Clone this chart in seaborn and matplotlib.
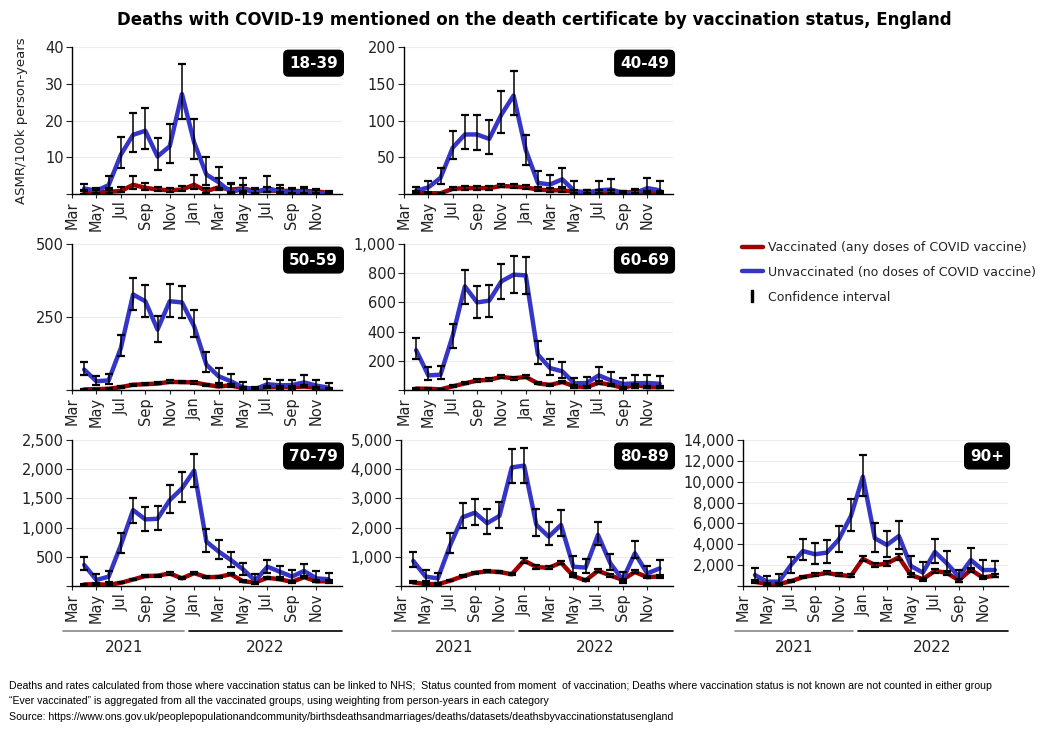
import pandas as pd
import matplotlib
matplotlib.use('Agg')
import matplotlib.pyplot as plt
import matplotlib.transforms as mtransforms
from matplotlib.lines import Line2D
from matplotlib.ticker import FuncFormatter, MultipleLocator
import seaborn as sns

# months counted from Mar 2021 = 0; data runs Apr 2021 .. Dec 2022
months = list(range(1, 22))
tick_pos = list(range(0, 21, 2))
tick_labels = ['Mar', 'May', 'Jul', 'Sep', 'Nov', 'Jan', 'Mar', 'May', 'Jul', 'Sep', 'Nov']
age_groups = ['18-39', '40-49', '50-59', '60-69', '70-79', '80-89', '90+']

# --- 18-39 ---
unvax_18_39 = [1.5, 0.9, 2.4, 10.7, 16.1, 17.2, 10.2, 13.0, 27.2, 14.0, 5.3, 3.2, 0.5, 1.4, 0.3, 1.6, 0.7, 0.5, 0.5, 0.3, 0.1]
unvax_18_39_lo = [1.0, 0.4, 1.5, 7.0, 11.5, 12.3, 6.5, 8.5, 20.5, 9.5, 2.5, 1.5, 0.0, 0.3, 0.0, 0.5, 0.0, 0.0, 0.0, 0.0, 0.0]
unvax_18_39_hi = [2.7, 1.5, 5.0, 15.5, 22.0, 23.5, 15.2, 19.0, 35.5, 20.3, 10.0, 7.3, 3.0, 4.3, 1.3, 4.8, 2.5, 1.3, 1.8, 1.0, 0.5]
vax_18_39 = [0.2, 0.4, 0.6, 0.8, 2.5, 1.7, 1.2, 1.0, 1.2, 2.5, 0.8, 1.8, 1.2, 1.5, 0.8, 0.9, 0.9, 0.8, 0.8, 0.7, 0.3]
vax_18_39_lo = [0.0, 0.1, 0.3, 0.5, 1.3, 1.0, 0.8, 0.6, 0.8, 1.3, 0.4, 1.0, 0.6, 0.8, 0.4, 0.5, 0.5, 0.4, 0.4, 0.3, 0.1]
vax_18_39_hi = [0.8, 1.0, 1.2, 1.8, 4.8, 3.0, 2.0, 1.7, 2.2, 5.3, 1.6, 4.3, 2.8, 2.5, 1.5, 1.8, 1.7, 1.5, 1.7, 1.3, 0.7]

# --- 40-49 ---
unvax_40_49 = [4.5, 9, 22, 63, 81, 81, 75, 108, 134, 60, 15, 13, 20, 4, 1.5, 5, 6, 1.5, 1.5, 8, 5]
unvax_40_49_lo = [2, 3, 13, 47, 61, 60, 55, 83, 107, 40, 5, 3, 10, 0, 0, 0, 0, 0, 0, 2, 0]
unvax_40_49_hi = [10, 17, 35, 86, 108, 108, 101, 140, 168, 80, 31, 26, 35, 17, 5, 18, 20, 4, 7, 22, 17]
vax_40_49 = [2, 1, 1, 7, 8, 8, 8, 11, 10, 9, 6, 5, 5, 3, 3, 3, 3, 2, 3, 2, 2]
vax_40_49_lo = [1, 0.5, 0.5, 5, 6, 6, 6, 9, 8, 7, 4, 3, 3, 2, 2, 2, 2, 1, 2, 1, 1]
vax_40_49_hi = [4, 2, 2, 10, 11, 11, 11, 14, 13, 12, 9, 8, 8, 5, 5, 5, 5, 4, 5, 4, 4]

# --- 50-59 ---
unvax_50_59 = [70, 30, 33, 144, 327, 304, 207, 304, 300, 218, 87, 47, 30, 9, 3, 20, 16, 17, 26, 15, 8]
unvax_50_59_lo = [50, 18, 20, 115, 275, 250, 165, 250, 245, 180, 60, 25, 15, 0, 0, 7, 5, 5, 10, 3, 0]
unvax_50_59_hi = [95, 48, 55, 190, 385, 360, 255, 362, 355, 275, 130, 77, 55, 28, 10, 38, 36, 36, 50, 36, 25]
vax_50_59 = [2, 3, 4, 10, 18, 20, 22, 28, 27, 26, 18, 12, 16, 6, 5, 10, 10, 10, 12, 8, 5]
vax_50_59_lo = [1, 2, 3, 8, 15, 17, 19, 24, 23, 22, 15, 9, 12, 4, 3, 7, 7, 7, 9, 5, 3]
vax_50_59_hi = [4, 5, 6, 13, 22, 24, 26, 33, 32, 31, 22, 16, 21, 9, 8, 14, 14, 14, 16, 12, 8]

# --- 60-69 ---
unvax_60_69 = [272, 100, 105, 372, 710, 600, 612, 744, 790, 785, 242, 150, 128, 46, 48, 100, 66, 41, 46, 48, 43]
unvax_60_69_lo = [215, 70, 75, 290, 590, 490, 500, 620, 665, 660, 175, 105, 80, 15, 20, 60, 35, 15, 15, 15, 15]
unvax_60_69_hi = [355, 158, 162, 455, 825, 715, 720, 865, 920, 912, 335, 215, 195, 80, 92, 160, 125, 85, 100, 100, 95]
vax_60_69 = [10, 8, 5, 25, 45, 65, 70, 90, 80, 90, 45, 35, 55, 25, 20, 50, 35, 15, 35, 20, 20]
vax_60_69_lo = [6, 5, 3, 20, 38, 57, 62, 80, 70, 80, 38, 28, 46, 18, 14, 40, 27, 10, 27, 14, 14]
vax_60_69_hi = [15, 12, 8, 31, 53, 74, 79, 101, 91, 101, 53, 43, 65, 33, 27, 61, 44, 21, 44, 27, 27]

# --- 70-79 ---
unvax_70_79 = [360, 103, 160, 700, 1300, 1140, 1150, 1470, 1670, 1975, 760, 590, 445, 285, 90, 330, 245, 160, 257, 130, 115]
unvax_70_79_lo = [270, 40, 70, 570, 1080, 935, 950, 1250, 1430, 1700, 590, 460, 320, 190, 40, 220, 150, 80, 150, 60, 50]
unvax_70_79_hi = [490, 200, 250, 910, 1510, 1360, 1375, 1730, 1950, 2260, 970, 780, 590, 400, 200, 450, 340, 280, 380, 250, 220]
vax_70_79 = [25, 30, 20, 55, 110, 170, 175, 215, 130, 220, 150, 155, 200, 80, 60, 140, 115, 70, 150, 80, 80]
vax_70_79_lo = [15, 18, 12, 45, 95, 155, 160, 195, 115, 200, 135, 140, 180, 68, 48, 122, 100, 58, 132, 67, 67]
vax_70_79_hi = [38, 44, 30, 67, 127, 187, 192, 237, 147, 242, 167, 172, 222, 94, 74, 160, 132, 84, 170, 95, 95]

# --- 80-89 ---
unvax_80_89 = [856, 320, 260, 1400, 2350, 2510, 2150, 2400, 4060, 4120, 2090, 1690, 2090, 660, 630, 1750, 780, 210, 1120, 430, 600]
unvax_80_89_lo = [640, 170, 100, 1120, 1980, 2080, 1780, 1980, 3510, 3540, 1700, 1390, 1700, 430, 430, 1400, 560, 100, 950, 300, 350]
unvax_80_89_hi = [1150, 530, 450, 1830, 2850, 2990, 2650, 2880, 4700, 4730, 2650, 2200, 2600, 1010, 940, 2200, 1110, 480, 1540, 680, 880]
vax_80_89 = [120, 70, 60, 180, 330, 450, 500, 480, 400, 870, 650, 620, 800, 340, 190, 520, 360, 210, 480, 300, 330]
vax_80_89_lo = [90, 45, 40, 155, 300, 415, 465, 445, 365, 800, 595, 565, 740, 300, 160, 470, 320, 175, 430, 260, 290]
vax_80_89_hi = [155, 100, 85, 210, 365, 490, 540, 520, 440, 950, 710, 680, 865, 385, 225, 575, 405, 250, 535, 345, 375]

# --- 90+ ---
unvax_90 = [1050, 415, 415, 2000, 3350, 3040, 3200, 4475, 6700, 10480, 4570, 3930, 4790, 1920, 1280, 3260, 2170, 900, 2490, 1530, 1530]
unvax_90_lo = [400, 100, 130, 1200, 2450, 2150, 2250, 3250, 5300, 8650, 3300, 2800, 3500, 1150, 700, 2250, 1350, 350, 1600, 800, 900]
unvax_90_hi = [1750, 1000, 1150, 2800, 4500, 4150, 4400, 5750, 8300, 12600, 6050, 5300, 6250, 2900, 2300, 4500, 3350, 1500, 3650, 2500, 2400]
vax_90 = [400, 200, 200, 450, 850, 1050, 1250, 1050, 950, 2600, 2000, 2150, 2750, 1050, 650, 1450, 1250, 550, 1550, 800, 1000]
vax_90_lo = [250, 100, 100, 350, 720, 920, 1100, 920, 820, 2350, 1800, 1950, 2500, 900, 520, 1250, 1080, 420, 1350, 650, 850]
vax_90_hi = [600, 330, 330, 570, 990, 1200, 1420, 1200, 1100, 2880, 2220, 2380, 3020, 1220, 800, 1670, 1440, 700, 1770, 970, 1170]

y_max = [40, 200, 500, 1000, 2500, 5000, 14000]
y_step = [10, 50, 250, 200, 500, 1000, 2000]

series = {
    '18-39': (unvax_18_39, unvax_18_39_lo, unvax_18_39_hi, vax_18_39, vax_18_39_lo, vax_18_39_hi),
    '40-49': (unvax_40_49, unvax_40_49_lo, unvax_40_49_hi, vax_40_49, vax_40_49_lo, vax_40_49_hi),
    '50-59': (unvax_50_59, unvax_50_59_lo, unvax_50_59_hi, vax_50_59, vax_50_59_lo, vax_50_59_hi),
    '60-69': (unvax_60_69, unvax_60_69_lo, unvax_60_69_hi, vax_60_69, vax_60_69_lo, vax_60_69_hi),
    '70-79': (unvax_70_79, unvax_70_79_lo, unvax_70_79_hi, vax_70_79, vax_70_79_lo, vax_70_79_hi),
    '80-89': (unvax_80_89, unvax_80_89_lo, unvax_80_89_hi, vax_80_89, vax_80_89_lo, vax_80_89_hi),
    '90+': (unvax_90, unvax_90_lo, unvax_90_hi, vax_90, vax_90_lo, vax_90_hi),
}

RED = '#A00000'
BLUE = '#3535C8'
VAX_LABEL = 'Vaccinated (any doses of COVID vaccine)'
UNVAX_LABEL = 'Unvaccinated (no doses of COVID vaccine)'

sns.set_theme(style='white')
plt.rcParams['font.family'] = ['DejaVu Sans']

fig = plt.figure(figsize=(10.51, 7.29), dpi=100)

# axes rectangles in figure fractions [left, bottom, width, height]
positions = [
    [0.0685, 0.7339, 0.2569, 0.2016],
    [0.3844, 0.7339, 0.2560, 0.2016],
    [0.0685, 0.4650, 0.2569, 0.2003],
    [0.3844, 0.4650, 0.2560, 0.2003],
    [0.0685, 0.1962, 0.2569, 0.2003],
    [0.3815, 0.1962, 0.2589, 0.2003],
    [0.7069, 0.1962, 0.2522, 0.2003],
]

for i, group in enumerate(age_groups):
    unvax, unvax_lo, unvax_hi, vax, vax_lo, vax_hi = series[group]
    df = pd.DataFrame({
        'month': months * 2,
        'rate': vax + unvax,
        'lo': vax_lo + unvax_lo,
        'hi': vax_hi + unvax_hi,
        'status': [VAX_LABEL] * len(months) + [UNVAX_LABEL] * len(months),
    })
    ax = fig.add_axes(positions[i])
    sns.lineplot(data=df, x='month', y='rate', hue='status',
                 palette={VAX_LABEL: RED, UNVAX_LABEL: BLUE},
                 linewidth=3.2, legend=False, ax=ax, zorder=2)
    ax.errorbar(df['month'], df['rate'],
                yerr=[df['rate'] - df['lo'], df['hi'] - df['rate']],
                fmt='none', ecolor='black', elinewidth=1.1, capsize=3.2,
                capthick=1.6, zorder=3)

    ax.set_xlim(0, 22.1)
    ax.set_ylim(0, y_max[i])
    ax.yaxis.set_major_locator(MultipleLocator(y_step[i]))
    ax.yaxis.set_major_formatter(FuncFormatter(lambda v, _: '' if v == 0 else f'{v:,.0f}'))
    ax.set_xticks(tick_pos)
    ax.set_xticklabels(tick_labels, rotation=90)
    ax.tick_params(axis='y', left=True, length=4, width=0.8, labelsize=10.5, pad=2, colors='#222222')
    ax.tick_params(axis='x', bottom=True, length=3, width=0.8, labelsize=10.5, pad=2, colors='#222222')
    ax.grid(axis='y', color='#ececec', linewidth=0.8)
    ax.set_axisbelow(True)
    sns.despine(ax=ax)
    for side in ['left', 'bottom']:
        ax.spines[side].set_color('black')
        ax.spines[side].set_linewidth(1.0)
    ax.set_xlabel('')
    ax.set_ylabel('')

    ax.text(0.985, 0.89, group, transform=ax.transAxes, ha='right', va='center',
            color='white', fontsize=11, fontweight='bold',
            bbox=dict(boxstyle='round,pad=0.35,rounding_size=0.3', fc='black', ec='black'))

    if i == 0:
        ax.set_ylabel('ASMR/100k person-years', fontsize=9.5, labelpad=12, color='#222222')

    if i >= 4:
        trans = mtransforms.blended_transform_factory(ax.transData, ax.transAxes)
        ax.plot([-0.7, 9.2], [-0.31, -0.31], color='#888888', lw=1.2, transform=trans, clip_on=False)
        ax.plot([9.6, 22.1], [-0.31, -0.31], color='black', lw=1.2, transform=trans, clip_on=False)
        ax.text(4.3, -0.37, '2021', transform=trans, ha='center', va='top', fontsize=11, color='#222222')
        ax.text(15.8, -0.37, '2022', transform=trans, ha='center', va='top', fontsize=11, color='#222222')

fig.text(0.508, 0.972, 'Deaths with COVID-19 mentioned on the death certificate by vaccination status, England',
         ha='center', va='center', fontsize=12, fontweight='bold', color='black')

handles = [
    Line2D([], [], color=RED, lw=3.2),
    Line2D([], [], color=BLUE, lw=3.2),
    Line2D([], [], color='black', linestyle='None', marker=r'$\mathrm{I}$', markersize=9),
]
fig.legend(handles, [VAX_LABEL, UNVAX_LABEL, 'Confidence interval'],
           loc='upper left', bbox_to_anchor=(0.695, 0.685), frameon=False,
           fontsize=9, handlelength=1.7, handletextpad=0.4, labelspacing=0.95,
           labelcolor='#222222')

notes = [
    'Deaths and rates calculated from those where vaccination status can be linked to NHS;  Status counted from moment  of vaccination; Deaths where vaccination status is not known are not counted in either group',
    '\u201cEver vaccinated\u201d is aggregated from all the vaccinated groups, using weighting from person-years in each category',
    'Source: https://www.ons.gov.uk/peoplepopulationandcommunity/birthsdeathsandmarriages/deaths/datasets/deathsbyvaccinationstatusengland',
]
for k, line in enumerate(notes):
    fig.text(0.009, 1 - (686 + 15.5 * k) / 729, line, ha='left', va='center',
             fontsize=7.6, family=['Liberation Sans', 'DejaVu Sans'], color='black')

fig.savefig('out.png', dpi=100)
